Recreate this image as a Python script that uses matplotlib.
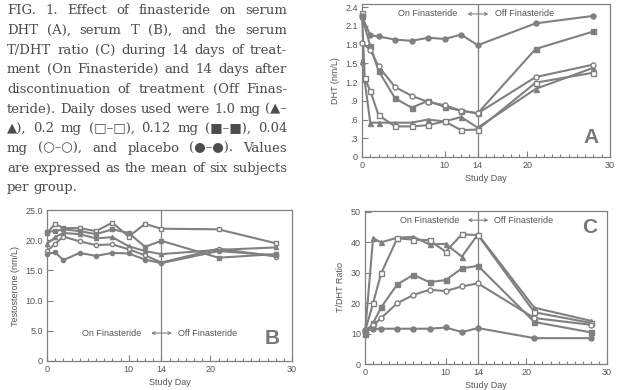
import matplotlib
matplotlib.use("Agg")
import matplotlib.pyplot as plt
from matplotlib.ticker import MultipleLocator, FixedLocator

# ---------------- data ----------------
days = [0, 1, 2, 4, 6, 8, 10, 12, 14, 21, 28]
days_sq_a = [0, 0.33, 1, 2, 4, 6, 8, 10, 12, 14, 21, 28]

dose_labels = ["1.0 mg", "0.2 mg", "0.12 mg", "0.04 mg", "placebo"]

# Panel A: serum DHT (nm/L)
dht_10 = [1.54, 0.55, 0.55, 0.55, 0.55, 0.60, 0.57, 0.64, 0.47, 1.09, 1.43]
dht_02 = [2.30, 1.26, 1.06, 0.67, 0.49, 0.49, 0.51, 0.57, 0.43, 0.44, 1.19, 1.35]
dht_012 = [2.25, 1.78, 1.38, 0.94, 0.79, 0.90, 0.80, 0.74, 0.70, 1.73, 2.01]
dht_004 = [1.82, 1.72, 1.45, 1.12, 0.98, 0.88, 0.83, 0.74, 0.70, 1.28, 1.48]
dht_pl = [2.25, 1.95, 1.93, 1.88, 1.86, 1.91, 1.89, 1.96, 1.79, 2.14, 2.26]

# Panel B: serum testosterone (nm/L)
t_10 = [19.4, 20.5, 21.2, 21.0, 20.3, 20.5, 19.0, 18.2, 17.7, 18.4, 18.8]
t_02 = [21.2, 22.7, 22.0, 22.0, 21.5, 22.9, 20.6, 22.7, 21.9, 21.8, 19.5]
t_012 = [21.4, 21.5, 21.8, 21.5, 21.0, 21.8, 21.2, 18.9, 19.9, 17.1, 17.7]
t_004 = [18.2, 19.4, 20.6, 19.8, 19.2, 19.3, 18.5, 17.5, 16.3, 18.6, 17.3]
t_pl = [17.7, 18.0, 16.7, 17.9, 17.4, 17.9, 17.8, 16.8, 16.2, 18.2, 17.5]

# Panel C: T/DHT ratio
r_10 = [10.1, 41.3, 40.0, 41.5, 41.8, 39.3, 39.5, 35.3, 42.6, 18.5, 14.2]
r_02 = [10.7, 20.0, 29.8, 41.3, 40.9, 40.7, 36.9, 42.6, 42.4, 17.0, 13.5]
r_012 = [9.8, 13.4, 18.6, 26.2, 29.3, 26.9, 27.6, 31.4, 32.3, 13.8, 10.4]
r_004 = [11.2, 12.7, 15.1, 20.0, 22.7, 24.4, 24.0, 25.5, 26.5, 15.1, 12.9]
r_pl = [10.7, 11.6, 11.6, 11.6, 11.6, 11.6, 12.0, 10.5, 11.8, 8.5, 8.5]

x_ticks = [0, 10, 14, 20, 30]
dht_ticks = [0, 0.3, 0.6, 0.9, 1.2, 1.5, 1.8, 2.1, 2.4]
dht_tick_labels = ["0", ".3", ".6", ".9", "1.2", "1.5", "1.8", "2.1", "2.4"]
t_ticks = [0, 5, 10, 15, 20, 25]
t_tick_labels = ["0", "5.0", "10.0", "15.0", "20.0", "25.0"]
r_ticks = [0, 10, 20, 30, 40, 50]
r_tick_labels = ["0", "10", "20", "30", "40", "50"]

caption_lines = [
    "FIG. 1. Effect of finasteride on serum",
    "DHT (A), serum T (B), and the serum",
    "T/DHT ratio (C) during 14 days of treat-",
    "ment (On Finasteride) and 14 days after",
    "discontinuation of treatment (Off Finas-",
    "teride). Daily doses used were 1.0 mg (\u25b2\u2013",
    "\u25b2), 0.2 mg (\u25a1\u2013\u25a1), 0.12 mg (\u25a0\u2013\u25a0), 0.04",
    "mg (\u25cb\u2013\u25cb), and placebo (\u25cf\u2013\u25cf). Values",
    "are expressed as the mean of six subjects",
    "per group.",
]

# ---------------- style ----------------
LINE = "#808080"
TXT = "#555555"
SANS = ["Liberation Sans", "DejaVu Sans"]
SERIF = ["DejaVu Serif", "DejaVu Sans"]

W, H = 618, 390
fig = plt.figure(figsize=(W / 100, H / 100), dpi=100)
fig.patch.set_facecolor("white")

styles = [
    dict(marker="^", mfc=LINE),
    dict(marker="s", mfc="white"),
    dict(marker="s", mfc=LINE),
    dict(marker="o", mfc="white"),
    dict(marker="o", mfc=LINE),
]


def px_axes(left, right, top, bottom):
    return fig.add_axes([left / W, (H - bottom) / H, (right - left) / W, (bottom - top) / H])


def style_axes(ax, ylim, yticks, ylabels, ylabel):
    ax.set_xlim(0, 30)
    ax.set_ylim(*ylim)
    ax.xaxis.set_major_locator(FixedLocator(x_ticks))
    ax.xaxis.set_minor_locator(MultipleLocator(1))
    ax.set_yticks(yticks)
    ax.set_yticklabels(ylabels)
    ax.tick_params(which="both", direction="in", colors=LINE, labelcolor=TXT,
                   labelsize=6.5, width=0.8)
    ax.tick_params(which="major", length=4, pad=3)
    ax.tick_params(which="minor", length=2)
    ax.tick_params(axis="y", which="minor", length=0)
    for lab in ax.get_xticklabels() + ax.get_yticklabels():
        lab.set_family(SANS)
    for s in ax.spines.values():
        s.set_color(LINE)
        s.set_linewidth(0.9)
    ax.set_xlabel("Study Day", fontsize=6.5, color=TXT, family=SANS, labelpad=3)
    ax.set_ylabel(ylabel, fontsize=6.5, color=TXT, family=SANS, labelpad=4)
    ax.axvline(14, color=LINE, lw=0.9)


def annot(ax, y, letter, lx, ly):
    ax.text(0.265, y, "On Finasteride", transform=ax.transAxes, ha="center", va="center",
            fontsize=6.5, color=TXT, family=SANS)
    ax.annotate("", xy=(0.51, y), xytext=(0.425, y), xycoords="axes fraction",
                arrowprops=dict(arrowstyle="<->", color=LINE, lw=0.8,
                                mutation_scale=5, shrinkA=0, shrinkB=0))
    ax.text(0.657, y, "Off Finasteride", transform=ax.transAxes, ha="center", va="center",
            fontsize=6.5, color=TXT, family=SANS)
    ax.text(lx, ly, letter, transform=ax.transAxes, ha="center", va="center",
            fontsize=15, fontweight="bold", color="#777777", family=SANS)


def plot_series(ax, xs_list, ys_list, ms=3.6):
    for xs, ys, st in zip(xs_list, ys_list, styles):
        ax.plot(xs, ys, color=LINE, lw=1.5, marker=st["marker"], mfc=st["mfc"],
                mec=LINE, mew=1.0, ms=ms, clip_on=False, zorder=3)


# Panel A
axA = px_axes(362, 610, 4, 157)
style_axes(axA, (0, 2.45), dht_ticks, dht_tick_labels, "DHT (nm/L)")
plot_series(axA, [days, days_sq_a, days, days, days],
            [dht_10, dht_02, dht_012, dht_004, dht_pl])
annot(axA, 0.935, "A", 0.925, 0.13)

# Panel B
axB = px_axes(47, 292, 210, 361)
style_axes(axB, (0, 25), t_ticks, t_tick_labels, "Testosterone (nm/L)")
plot_series(axB, [days] * 5, [t_10, t_02, t_012, t_004, t_pl], ms=3.0)
annot(axB, 0.185, "B", 0.918, 0.146)

# Panel C
axC = px_axes(365, 607, 211, 364)
style_axes(axC, (0, 50.3), r_ticks, r_tick_labels, "T/DHT Ratio")
plot_series(axC, [days] * 5, [r_10, r_02, r_012, r_004, r_pl])
annot(axC, 0.94, "C", 0.93, 0.895)

# ---------------- caption (justified) ----------------
renderer = fig.canvas.get_renderer()
x0, x1 = 7, 287
cap_color = "#4d4d4d"


def measure(s, fs):
    t = fig.text(0, 0, s, fontsize=fs, family=SERIF)
    w = t.get_window_extent(renderer).width
    t.remove()
    return w


fs = 10
ref_line = caption_lines[8]
fs = fs * (x1 - x0 - 1) / measure(ref_line, fs)
space_w = measure("a a", fs) - measure("aa", fs)

for i, line in enumerate(caption_lines):
    words = line.split(" ")
    yc = H - (10.7 + i * 19.7)
    texts = [fig.text(0, 0, w, fontsize=fs, family=SERIF, color=cap_color,
                      ha="left", va="center") for w in words]
    widths = [t.get_window_extent(renderer).width for t in texts]
    if i < len(caption_lines) - 1 and len(words) > 1:
        gap = (x1 - x0 - sum(widths)) / (len(words) - 1)
        gap = max(gap, 0.45 * space_w)
    else:
        gap = space_w
    x = x0
    for t, w in zip(texts, widths):
        t.set_position((x / W, yc / H))
        x += w + gap

fig.savefig("out.png", dpi=100, facecolor="white")
